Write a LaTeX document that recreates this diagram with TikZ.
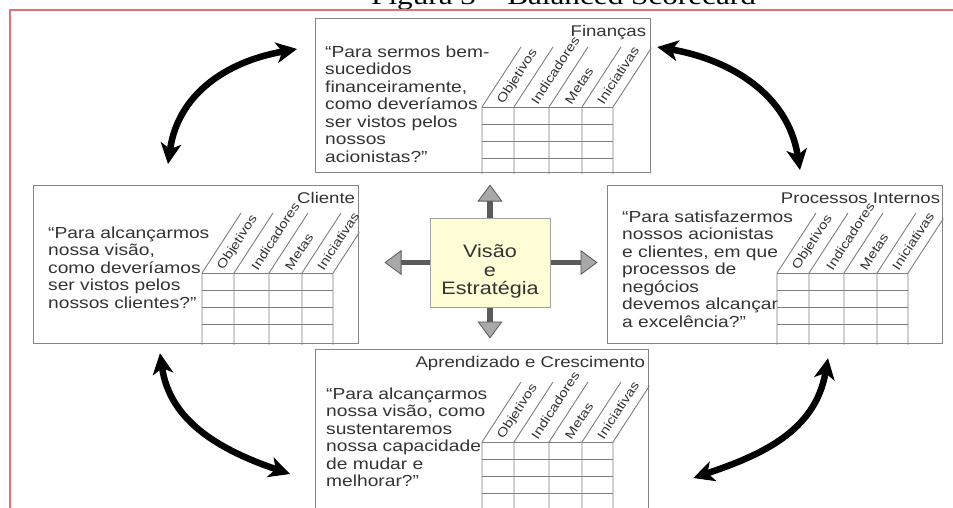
\documentclass[tikz,border=0pt]{standalone}
\usepackage{fontspec}
\usetikzlibrary{positioning,arrows.meta,calc}
\newfontfamily\bscfont[FakeStretch=1.2]{Liberation Sans}
\newfontfamily\ttlfont[FakeStretch=1.2]{Liberation Serif}
\definecolor{REDc}{HTML}{E2707A}
\definecolor{BOXBD}{HTML}{858585}
\definecolor{GRIDc}{HTML}{7E7E7E}
\definecolor{TXTc}{HTML}{333333}
\definecolor{VEFILL}{HTML}{FFFED6}
\definecolor{VEBD}{HTML}{A2A2A2}
\definecolor{ARRSTEM}{HTML}{5A5A5A}
\definecolor{ARRHEAD}{HTML}{A8A8A8}

\begin{document}
\begin{tikzpicture}[
  x=1pt, y=-1pt,
  text=TXTc,
  % perspective box: size given per box
  pbox/.style={draw=BOXBD, line width=1.3pt, anchor=north west, inner sep=0pt},
  % box heading, top right
  ptitle/.style={font=\bscfont\fontsize{15.5}{18}\selectfont, inner sep=0pt},
  % guiding question
  quote/.style={font=\bscfont\fontsize{16}{17.5}\selectfont, align=left, inner sep=0pt},
  % slanted column heading
  lbl/.style={font=\bscfont\fontsize{12.5}{14}\selectfont, rotate=57, anchor=west, inner sep=0pt},
  % grid lines
  gridln/.style={draw=GRIDc, line width=0.9pt},
  % centre box (text set on its own, a little low as in the original)
  vebox/.style={draw=VEBD, line width=1pt, fill=VEFILL, minimum width=120, minimum height=89},
  vetext/.style={align=center, inner sep=0pt, font=\bscfont\fontsize{18}{18.5}\selectfont},
  % short grey block arrow
  blk/.style={draw=ARRSTEM, line width=5.5pt,
              -{Triangle[width=25pt,length=17pt,line width=0.8pt,fill=ARRHEAD]}},
  % big black two-headed arrow
  bigar/.style={draw=black, line width=6.5pt,
                {Stealth[length=21pt,width=21pt,inset=6pt,line width=1pt]}-{Stealth[length=21pt,width=21pt,inset=6pt,line width=1pt]}},
  % page frame
  frame/.style={draw=REDc, line width=1.3pt},
]

% ---------- Page frame and cut title ----------
\useasboundingbox (0,0) rectangle (953,508);
\clip (0,0) rectangle (953,508);
\node[anchor=base west, inner sep=0pt, text=black, font=\ttlfont\fontsize{26}{30}\selectfont]
  (TTL) at (371,4.5) {Figura 3 – Balanced Scorecard};
\draw[frame] (10,520) -- (10,10) -- (960,10);

% ---------- Perspective boxes ----------
\node[pbox, minimum width=335, minimum height=154] (FIN) at (315,18) {};
\node[pbox, minimum width=325, minimum height=158] (CLI) at (33,185) {};
\node[pbox, minimum width=335, minimum height=158] (PRO) at (607,185) {};
\node[pbox, minimum width=333, minimum height=180] (APR) at (315,349) {};

\node[ptitle, below left=7.5pt and 5pt of FIN.north east] (FINt) {Finanças};
\node[ptitle, below left=7.5pt and 4pt of CLI.north east] (CLIt) {Cliente};
\node[ptitle, below left=7.5pt and 3pt of PRO.north east] (PROt) {Processos Internos};
\node[ptitle, below left=7.5pt and 4pt of APR.north east] (APRt) {Aprendizado e Crescimento};

\node[quote, below right=27.5pt and 10pt of FIN.north west] (FINq)
  {“Para sermos bem-\\sucedidos\\financeiramente,\\como deveríamos\\ser vistos pelos\\nossos\\acionistas?”};
\node[quote, below right=41.5pt and 15pt of CLI.north west] (CLIq)
  {“Para alcançarmos\\nossa visão,\\como deveríamos\\ser vistos pelos\\nossos clientes?”};
\node[quote, below right=25.5pt and 15pt of PRO.north west] (PROq)
  {“Para satisfazermos\\nossos acionistas\\e clientes, em que\\processos de\\negócios\\devemos alcançar\\a excelência?”};
\node[quote, below right=38.5pt and 11pt of APR.north west] (APRq)
  {“Para alcançarmos\\nossa visão, como\\sustentaremos\\nossa capacidade\\de mudar e\\melhorar?”};

% ---------- Grids with slanted headings ----------
\foreach \bx/\gx/\gt in {FIN/482/107, CLI/202/273, PRO/777/273, APR/482/442} {
  \begin{scope}
    \clip (\bx.north west) rectangle (\bx.south east);
    \draw[gridln] (\gx,\gt) -- ++(131,0);
    \foreach \k in {1,2,3}
      \draw[gridln] (\gx,\gt+17.3*\k) -- ++(131,0);
    \foreach \o in {0,32,67,100,131}
      \draw[gridln] (\gx+\o,\gt+200) -- (\gx+\o,\gt) -- ++(39,-60);
  \end{scope}
  \foreach \lo/\lt in {16/Objetivos, 49.5/Indicadores, 83.5/Metas, 115.5/Iniciativas}
    \node[lbl] at (\gx+\lo+2.5,\gt-4) {\lt};
}

% ---------- Centre box and block arrows ----------
\node[vebox] (VE) at (490,262.5) {};
\node[vetext] (VEt) at ($(VE.center)+(0,9)$) {Visão\\e\\Estratégia};
\draw[blk] (VE.north) -- ++(0,-33) coordinate (VEup);
\draw[blk] (VE.south) -- ++(0,31) coordinate (VEdn);
\draw[blk] (VE.east) -- ++(47,0) coordinate (VErt);
\draw[blk] (VE.west) -- ++(-45,0) coordinate (VElt);

% ---------- Curved two-headed arrows between perspectives ----------
\draw[bigar] ($(CLI.north west)+(135,-21)$) .. controls +(10,-69) and +(-72,13) .. ($(FIN.north west)+(-18,31)$);
\draw[bigar] ($(FIN.north east)+(6,29)$) .. controls +(74,13) and +(-12,-75) .. ($(PRO.north west)+(193,-15)$);
\draw[bigar] ($(CLI.south west)+(127,9)$) .. controls +(10,68) and +(-70,-24) .. ($(APR.north west)+(-25,125)$);
\draw[bigar] ($(PRO.south west)+(221,14)$) .. controls +(-13,73) and +(68,-23) .. ($(APR.north east)+(44,129)$);

\end{tikzpicture}
\end{document}
